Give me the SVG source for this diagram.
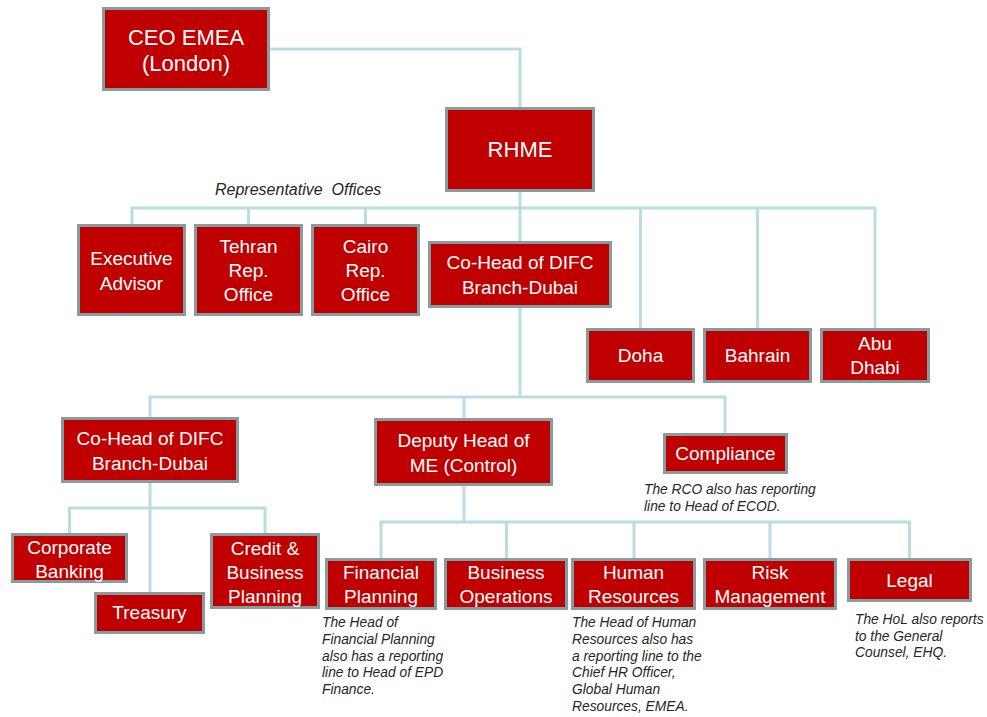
<svg xmlns="http://www.w3.org/2000/svg" width="987" height="717" viewBox="0 0 987 717">
  <style>
    .box { fill: #C00000; stroke: #859DA0; stroke-width: 3; }
    .lbl { font-family: "Liberation Sans", Arial, sans-serif; font-size: 19px; fill: #FFFFFF; text-anchor: middle; }
    .big { font-size: 22px; }
    .note { font-family: "Liberation Sans", Arial, sans-serif; font-size: 13.8px; font-style: italic; fill: #262626; }
    .cap { font-family: "Liberation Sans", Arial, sans-serif; font-size: 16px; font-style: italic; fill: #262626; white-space: pre; }
    .wire { fill: none; stroke: #B9DDE3; stroke-width: 3; }
  </style>

  <!-- reporting lines -->
  <g id="connectors">
    <path class="wire" d="M270,49 H520 V107"/>
    <path class="wire" d="M520,192 V241"/>
    <path class="wire" d="M132,224 V208 H875 V328"/>
    <path class="wire" d="M248.5,208 V224"/>
    <path class="wire" d="M365.5,208 V224"/>
    <path class="wire" d="M640.5,208 V328"/>
    <path class="wire" d="M757.5,208 V328"/>
    <path class="wire" d="M520,308 V397"/>
    <path class="wire" d="M150,417 V397 H725 V433"/>
    <path class="wire" d="M464,397 V418"/>
    <path class="wire" d="M150,483 V592"/>
    <path class="wire" d="M69.5,533 V508 H265 V533"/>
    <path class="wire" d="M464,486 V522"/>
    <path class="wire" d="M381,558 V522 H909.5 V558"/>
    <path class="wire" d="M506.5,522 V558"/>
    <path class="wire" d="M634,522 V558"/>
    <path class="wire" d="M770,522 V558"/>
  </g>

  <text class="cap" x="215" y="195">Representative  Offices</text>

  <g id="ceo-emea">
    <rect class="box" x="103.5" y="8.5" width="165" height="81"/>
    <text class="lbl big" x="186" y="45">CEO EMEA</text>
    <text class="lbl big" x="186" y="71">(London)</text>
  </g>
  <g id="rhme">
    <rect class="box" x="446.5" y="108.5" width="147" height="82"/>
    <text class="lbl big" x="520" y="157">RHME</text>
  </g>
  <g id="executive-advisor">
    <rect class="box" x="78.5" y="225.5" width="106" height="89"/>
    <text class="lbl" x="131.5" y="265">Executive</text>
    <text class="lbl" x="131.5" y="290">Advisor</text>
  </g>
  <g id="tehran">
    <rect class="box" x="195.5" y="225.5" width="106" height="89"/>
    <text class="lbl" x="248.5" y="253">Tehran</text>
    <text class="lbl" x="248.5" y="277">Rep.</text>
    <text class="lbl" x="248.5" y="301">Office</text>
  </g>
  <g id="cairo">
    <rect class="box" x="312.5" y="225.5" width="106" height="89"/>
    <text class="lbl" x="365.5" y="253">Cairo</text>
    <text class="lbl" x="365.5" y="277">Rep.</text>
    <text class="lbl" x="365.5" y="301">Office</text>
  </g>
  <g id="cohead-difc-top">
    <rect class="box" x="429.5" y="242.5" width="181" height="64"/>
    <text class="lbl" x="520" y="269">Co-Head of DIFC</text>
    <text class="lbl" x="520" y="294">Branch-Dubai</text>
  </g>
  <g id="doha">
    <rect class="box" x="587.5" y="329.5" width="106" height="52"/>
    <text class="lbl" x="640.5" y="362">Doha</text>
  </g>
  <g id="bahrain">
    <rect class="box" x="704.5" y="329.5" width="106" height="52"/>
    <text class="lbl" x="757.5" y="362">Bahrain</text>
  </g>
  <g id="abu-dhabi">
    <rect class="box" x="821.5" y="329.5" width="107" height="52"/>
    <text class="lbl" x="875" y="350">Abu</text>
    <text class="lbl" x="875" y="374">Dhabi</text>
  </g>
  <g id="cohead-difc">
    <rect class="box" x="62.5" y="418.5" width="175" height="63"/>
    <text class="lbl" x="150" y="445">Co-Head of DIFC</text>
    <text class="lbl" x="150" y="470">Branch-Dubai</text>
  </g>
  <g id="deputy-head">
    <rect class="box" x="375.5" y="419.5" width="176" height="65"/>
    <text class="lbl" x="463.5" y="447">Deputy Head of</text>
    <text class="lbl" x="463.5" y="472">ME (Control)</text>
  </g>
  <g id="compliance">
    <rect class="box" x="664.5" y="434.5" width="122" height="38"/>
    <text class="lbl" x="725.5" y="460">Compliance</text>
    <text class="note" x="644" y="494">The RCO also has reporting</text>
    <text class="note" x="644" y="510.5">line to Head of ECOD.</text>
  </g>
  <g id="corporate-banking">
    <rect class="box" x="12.5" y="534.5" width="114" height="47"/>
    <text class="lbl" x="69.5" y="554">Corporate</text>
    <text class="lbl" x="69.5" y="578">Banking</text>
  </g>
  <g id="treasury">
    <rect class="box" x="95.5" y="593.5" width="108" height="39"/>
    <text class="lbl" x="149.5" y="619">Treasury</text>
  </g>
  <g id="credit-business-planning">
    <rect class="box" x="211.5" y="534.5" width="107" height="73"/>
    <text class="lbl" x="265" y="555">Credit &amp;</text>
    <text class="lbl" x="265" y="579">Business</text>
    <text class="lbl" x="265" y="603">Planning</text>
  </g>
  <g id="financial-planning">
    <rect class="box" x="326.5" y="559.5" width="109" height="49"/>
    <text class="lbl" x="381" y="579">Financial</text>
    <text class="lbl" x="381" y="603">Planning</text>
    <text class="note" x="322" y="627">The Head of</text>
    <text class="note" x="322" y="643.8">Financial Planning</text>
    <text class="note" x="322" y="660.6">also has a reporting</text>
    <text class="note" x="322" y="677.4">line to Head of EPD</text>
    <text class="note" x="322" y="694.2">Finance.</text>
  </g>
  <g id="business-operations">
    <rect class="box" x="445.5" y="559.5" width="121" height="49"/>
    <text class="lbl" x="506" y="579">Business</text>
    <text class="lbl" x="506" y="603">Operations</text>
  </g>
  <g id="human-resources">
    <rect class="box" x="572.5" y="559.5" width="122" height="49"/>
    <text class="lbl" x="633.5" y="579">Human</text>
    <text class="lbl" x="633.5" y="603">Resources</text>
    <text class="note" x="572" y="627">The Head of Human</text>
    <text class="note" x="572" y="643.8">Resources also has</text>
    <text class="note" x="572" y="660.6">a reporting line to the</text>
    <text class="note" x="572" y="677.4">Chief HR Officer,</text>
    <text class="note" x="572" y="694.2">Global Human</text>
    <text class="note" x="572" y="711">Resources, EMEA.</text>
  </g>
  <g id="risk-management">
    <rect class="box" x="704.5" y="559.5" width="131" height="49"/>
    <text class="lbl" x="770" y="579">Risk</text>
    <text class="lbl" x="770" y="603">Management</text>
  </g>
  <g id="legal">
    <rect class="box" x="848.5" y="559.5" width="122" height="41"/>
    <text class="lbl" x="909.5" y="587">Legal</text>
    <text class="note" x="855" y="624">The HoL also reports</text>
    <text class="note" x="855" y="640.5">to the General</text>
    <text class="note" x="855" y="657">Counsel, EHQ.</text>
  </g>
</svg>
